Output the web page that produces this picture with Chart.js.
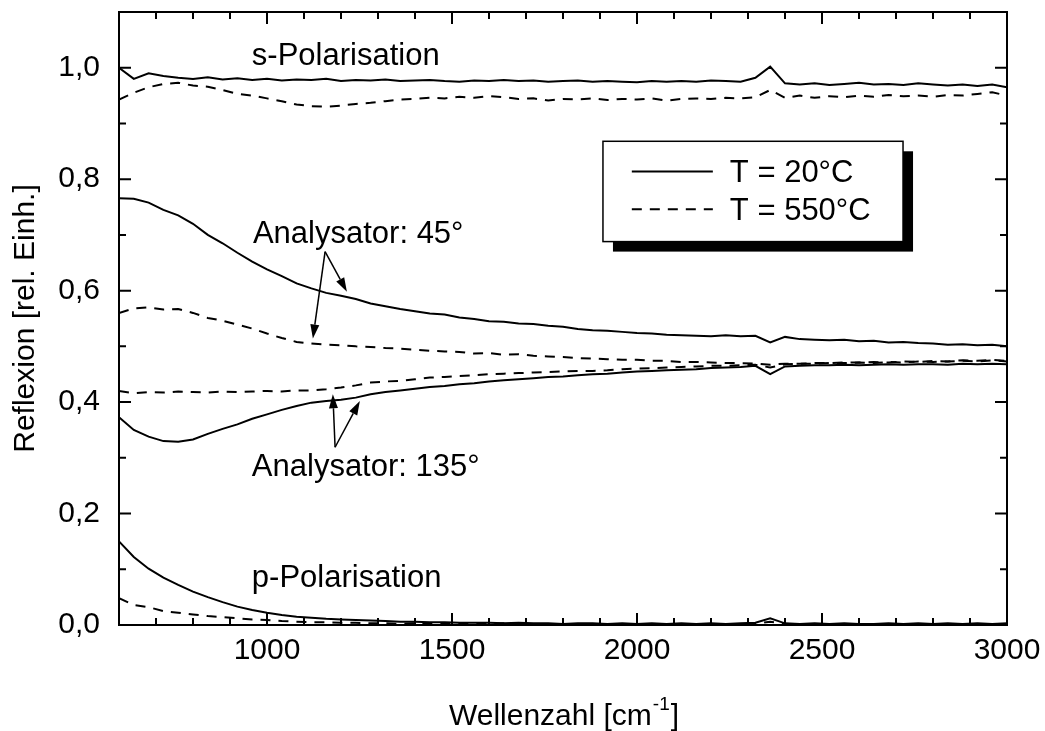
<!DOCTYPE html>
<html>
<head>
<meta charset="utf-8">
<title>Reflexion</title>
<script src="https://cdn.jsdelivr.net/npm/chart.js@4.4.1/dist/chart.umd.min.js"></script>
<style>
  html, body { margin: 0; padding: 0; background: #fff; }
  canvas { display: block; }
</style>
</head>
<body>
<canvas id="chart" width="1045" height="731"></canvas>
<script>
// Wellenzahl in cm^-1
const wavenumber = [
  600, 640, 680, 720, 760, 800, 840, 880, 920, 960,
  1000, 1040, 1080, 1120, 1160, 1200, 1240, 1280, 1320, 1360,
  1400, 1440, 1480, 1520, 1560, 1600, 1640, 1680, 1720, 1760,
  1800, 1840, 1880, 1920, 1960, 2000, 2040, 2080, 2120, 2160,
  2200, 2240, 2280, 2320, 2360, 2400, 2440, 2480, 2520, 2560,
  2600, 2640, 2680, 2720, 2760, 2800, 2840, 2880, 2920, 2960, 3000,
];

// s-Polarisation
const sPol20 = [
  1.000, 0.980, 0.990, 0.985, 0.982, 0.980, 0.983, 0.979, 0.981, 0.978,
  0.980, 0.977, 0.979, 0.978, 0.980, 0.976, 0.978, 0.977, 0.979, 0.976,
  0.977, 0.978, 0.976, 0.975, 0.977, 0.976, 0.978, 0.976, 0.977, 0.975,
  0.976, 0.977, 0.975, 0.976, 0.975, 0.974, 0.976, 0.975, 0.976, 0.975,
  0.977, 0.976, 0.975, 0.982, 1.002, 0.972, 0.970, 0.972, 0.969, 0.971,
  0.973, 0.970, 0.971, 0.969, 0.972, 0.970, 0.968, 0.970, 0.967, 0.970, 0.965,
];
const sPol550 = [
  0.943, 0.955, 0.965, 0.971, 0.973, 0.968, 0.966, 0.960, 0.953, 0.950,
  0.945, 0.940, 0.934, 0.931, 0.930, 0.932, 0.935, 0.937, 0.940, 0.943,
  0.944, 0.946, 0.945, 0.948, 0.946, 0.949, 0.947, 0.944, 0.945, 0.941,
  0.944, 0.943, 0.945, 0.942, 0.944, 0.943, 0.945, 0.941, 0.944, 0.945,
  0.944, 0.946, 0.945, 0.947, 0.960, 0.946, 0.950, 0.946, 0.949, 0.947,
  0.950, 0.948, 0.951, 0.949, 0.950, 0.948, 0.951, 0.950, 0.953, 0.956, 0.950,
];

// Analysator 45°
const ana45_20 = [
  0.766, 0.765, 0.758, 0.745, 0.735, 0.720, 0.700, 0.685, 0.668, 0.652,
  0.638, 0.626, 0.613, 0.604, 0.596, 0.591, 0.585, 0.577, 0.572, 0.567,
  0.563, 0.559, 0.557, 0.552, 0.549, 0.545, 0.544, 0.541, 0.540, 0.537,
  0.535, 0.531, 0.529, 0.528, 0.526, 0.524, 0.523, 0.521, 0.520, 0.519,
  0.518, 0.520, 0.518, 0.519, 0.507, 0.517, 0.513, 0.512, 0.511, 0.512,
  0.509, 0.510, 0.507, 0.508, 0.506, 0.505, 0.503, 0.504, 0.502, 0.503, 0.500,
];
const ana45_550 = [
  0.560, 0.568, 0.570, 0.566, 0.567, 0.560, 0.551, 0.546, 0.539, 0.532,
  0.523, 0.515, 0.508, 0.505, 0.503, 0.502, 0.500, 0.499, 0.497, 0.496,
  0.494, 0.492, 0.491, 0.490, 0.487, 0.488, 0.485, 0.486, 0.483, 0.482,
  0.481, 0.479, 0.478, 0.477, 0.476, 0.476, 0.474, 0.474, 0.472, 0.472,
  0.471, 0.470, 0.470, 0.469, 0.467, 0.469, 0.469, 0.470, 0.470, 0.471,
  0.471, 0.472, 0.471, 0.473, 0.472, 0.474, 0.473, 0.475, 0.474, 0.476, 0.474,
];

// Analysator 135°
const ana135_20 = [
  0.373, 0.350, 0.338, 0.330, 0.329, 0.333, 0.343, 0.352, 0.360, 0.370,
  0.378, 0.386, 0.393, 0.399, 0.402, 0.404, 0.408, 0.414, 0.418, 0.421,
  0.424, 0.427, 0.429, 0.432, 0.434, 0.437, 0.439, 0.441, 0.443, 0.445,
  0.446, 0.448, 0.450, 0.451, 0.453, 0.455, 0.456, 0.457, 0.458, 0.459,
  0.461, 0.462, 0.463, 0.465, 0.450, 0.464, 0.465, 0.466, 0.466, 0.467,
  0.466, 0.467, 0.468, 0.467, 0.468, 0.468, 0.467, 0.469, 0.468, 0.469, 0.468,
];
const ana135_550 = [
  0.420, 0.416, 0.418, 0.417, 0.419, 0.418, 0.417, 0.419, 0.418, 0.419,
  0.420, 0.419, 0.421, 0.421, 0.423, 0.426, 0.430, 0.435, 0.437, 0.438,
  0.441, 0.444, 0.445, 0.447, 0.448, 0.450, 0.451, 0.452, 0.453, 0.454,
  0.455, 0.456, 0.456, 0.457, 0.459, 0.460, 0.461, 0.462, 0.463, 0.464,
  0.465, 0.465, 0.466, 0.467, 0.462, 0.468, 0.469, 0.469, 0.470, 0.470,
  0.471, 0.470, 0.472, 0.471, 0.473, 0.472, 0.473, 0.474, 0.473, 0.475, 0.473,
];

// p-Polarisation
const pPol20 = [
  0.150, 0.122, 0.101, 0.085, 0.072, 0.060, 0.050, 0.041, 0.033, 0.027,
  0.022, 0.018, 0.015, 0.013, 0.011, 0.010, 0.009, 0.008, 0.007, 0.006,
  0.006, 0.005, 0.005, 0.004, 0.004, 0.004, 0.003, 0.004, 0.003, 0.003,
  0.002, 0.003, 0.003, 0.002, 0.003, 0.002, 0.003, 0.002, 0.003, 0.002,
  0.003, 0.002, 0.003, 0.004, 0.012, 0.003, 0.002, 0.003, 0.002, 0.003,
  0.002, 0.002, 0.003, 0.002, 0.003, 0.002, 0.003, 0.002, 0.003, 0.002, 0.003,
];
const pPol550 = [
  0.048, 0.036, 0.032, 0.025, 0.022, 0.019, 0.016, 0.014, 0.012, 0.010,
  0.009, 0.007, 0.006, 0.005, 0.005, 0.004, 0.004, 0.003, 0.003, 0.002,
  0.003, 0.002, 0.002, 0.003, 0.002, 0.002, 0.003, 0.002, 0.001, 0.002,
  0.002, 0.001, 0.002, 0.002, 0.001, 0.002, 0.001, 0.002, 0.002, 0.001,
  0.002, 0.001, 0.002, 0.002, 0.006, 0.002, 0.001, 0.002, 0.001, 0.002,
  0.002, 0.001, 0.002, 0.001, 0.002, 0.002, 0.001, 0.002, 0.001, 0.002, 0.002,
];

const xTickValues = [1000, 1500, 2000, 2500, 3000];
const yTickValues = [0, 0.2, 0.4, 0.6, 0.8, 1.0];
const legendLabels = ["T = 20°C", "T = 550°C"];

const FONT = "'Liberation Sans', Arial, Helvetica, sans-serif";
const DASH = [10, 8];

function toPoints(values) {
  return wavenumber.map((x, i) => ({ x: x, y: values[i] }));
}

function lineSet(label, values, dashed) {
  return {
    label: label,
    data: toPoints(values),
    borderColor: "#000",
    borderWidth: 2,
    borderDash: dashed ? DASH : [],
    pointRadius: 0,
    tension: 0,
    fill: false,
  };
}

function commaLabel(v) {
  return v.toFixed(1).replace(".", ",");
}

// keep the plot box fixed, no extra room for overhanging labels
function fixBox(size) {
  return (s) => {
    if (s.isHorizontal()) s.height = size;
    else s.width = size;
    s.paddingTop = 0;
    s.paddingBottom = 0;
    s.paddingLeft = 0;
    s.paddingRight = 0;
  };
}

function drawArrow(ctx, from, to) {
  const ang = Math.atan2(to[1] - from[1], to[0] - from[0]);
  const head = 14;
  const half = 4.5;
  const bx = to[0] - head * Math.cos(ang);
  const by = to[1] - head * Math.sin(ang);
  ctx.beginPath();
  ctx.moveTo(from[0], from[1]);
  ctx.lineTo(bx, by);
  ctx.stroke();
  ctx.beginPath();
  ctx.moveTo(to[0], to[1]);
  ctx.lineTo(bx + half * Math.sin(ang), by - half * Math.cos(ang));
  ctx.lineTo(bx - half * Math.sin(ang), by + half * Math.cos(ang));
  ctx.closePath();
  ctx.fill();
}

// frame, inner ticks on all four sides, axis titles
const framePlugin = {
  id: "frame",
  afterDraw(chart) {
    const { ctx, chartArea: a } = chart;
    const xs = chart.scales.x;
    const ys = chart.scales.y;
    ctx.save();
    ctx.strokeStyle = "#000";
    ctx.lineWidth = 2;
    ctx.setLineDash([]);
    ctx.strokeRect(a.left, a.top, a.right - a.left, a.bottom - a.top);

    ctx.beginPath();
    for (let v = 600; v <= 3000; v += 100) {
      const len = v % 500 === 0 ? 12 : 7;
      const x = xs.getPixelForValue(v);
      ctx.moveTo(x, a.bottom);
      ctx.lineTo(x, a.bottom - len);
      ctx.moveTo(x, a.top);
      ctx.lineTo(x, a.top + len);
    }
    for (let k = 0; k <= 11; k++) {
      const len = k % 2 === 0 ? 12 : 7;
      const y = ys.getPixelForValue(k / 10);
      ctx.moveTo(a.left, y);
      ctx.lineTo(a.left + len, y);
      ctx.moveTo(a.right, y);
      ctx.lineTo(a.right - len, y);
    }
    ctx.stroke();

    // axis titles
    ctx.fillStyle = "#000";
    ctx.font = "30px " + FONT;
    ctx.textBaseline = "alphabetic";
    const main = "Wellenzahl [cm";
    const sup = "-1";
    const tail = "]";
    const wMain = ctx.measureText(main).width;
    const wTail = ctx.measureText(tail).width;
    ctx.font = "19px " + FONT;
    const wSup = ctx.measureText(sup).width;
    const x0 = (a.left + a.right) / 2 - (wMain + wSup + wTail) / 2;
    const base = 725;
    ctx.font = "30px " + FONT;
    ctx.textAlign = "left";
    ctx.fillText(main, x0, base);
    ctx.font = "19px " + FONT;
    ctx.fillText(sup, x0 + wMain + 1, base - 15);
    ctx.font = "30px " + FONT;
    ctx.fillText(tail, x0 + wMain + wSup + 2, base);

    ctx.translate(34, (a.top + a.bottom) / 2);
    ctx.rotate(-Math.PI / 2);
    ctx.textAlign = "center";
    ctx.fillText("Reflexion [rel. Einh.]", 0, 0);
    ctx.restore();
  },
};

// curve labels, arrows and the boxed legend
const notesPlugin = {
  id: "notes",
  afterDraw(chart) {
    const { ctx } = chart;
    const xs = chart.scales.x;
    const ys = chart.scales.y;
    const p = (wn, r) => [xs.getPixelForValue(wn), ys.getPixelForValue(r)];

    ctx.save();
    ctx.fillStyle = "#000";
    ctx.strokeStyle = "#000";
    ctx.font = "31px " + FONT;
    ctx.textAlign = "left";
    ctx.textBaseline = "alphabetic";
    const notes = [
      ["s-Polarisation", 959, 1.004],
      ["Analysator: 45°", 962, 0.685],
      ["Analysator: 135°", 959, 0.267],
      ["p-Polarisation", 959, 0.068],
    ];
    notes.forEach(([text, wn, r]) => {
      const [x, y] = p(wn, r);
      ctx.fillText(text, x, y);
    });

    ctx.lineWidth = 1.5;
    const arrows = [
      [[1157, 0.670], [1124, 0.514]],
      [[1157, 0.670], [1216, 0.598]],
      [[1184, 0.319], [1178, 0.414]],
      [[1184, 0.319], [1251, 0.402]],
    ];
    arrows.forEach(([from, to]) => {
      drawArrow(ctx, p(from[0], from[1]), p(to[0], to[1]));
    });

    // legend box with drop shadow
    const [bx0, by0] = p(1908, 0.868);
    const [bx1, by1] = p(2719, 0.688);
    ctx.fillRect(bx0 + 10, by0 + 10, bx1 - bx0, by1 - by0);
    ctx.fillStyle = "#fff";
    ctx.fillRect(bx0, by0, bx1 - bx0, by1 - by0);
    ctx.lineWidth = 1.5;
    ctx.strokeRect(bx0, by0, bx1 - bx0, by1 - by0);

    ctx.fillStyle = "#000";
    ctx.lineWidth = 2;
    const rows = [0.814, 0.746];
    rows.forEach((r, i) => {
      const [sx0, sy] = p(1986, r);
      const [sx1] = p(2205, r);
      ctx.setLineDash(i === 0 ? [] : DASH);
      ctx.beginPath();
      ctx.moveTo(sx0, sy);
      ctx.lineTo(sx1, sy);
      ctx.stroke();
      const [tx] = p(2251, r);
      ctx.fillText(legendLabels[i], tx, sy + 11);
    });
    ctx.restore();
  },
};

const ctx = document.getElementById("chart").getContext("2d");

new Chart(ctx, {
  type: "line",
  data: {
    datasets: [
      lineSet("s-Polarisation, " + legendLabels[0], sPol20, false),
      lineSet("s-Polarisation, " + legendLabels[1], sPol550, true),
      lineSet("Analysator: 45°, " + legendLabels[0], ana45_20, false),
      lineSet("Analysator: 45°, " + legendLabels[1], ana45_550, true),
      lineSet("Analysator: 135°, " + legendLabels[0], ana135_20, false),
      lineSet("Analysator: 135°, " + legendLabels[1], ana135_550, true),
      lineSet("p-Polarisation, " + legendLabels[0], pPol20, false),
      lineSet("p-Polarisation, " + legendLabels[1], pPol550, true),
    ],
  },
  options: {
    responsive: false,
    animation: false,
    devicePixelRatio: 1,
    layout: { padding: { left: 0, top: 12, right: 38, bottom: 0 } },
    plugins: {
      legend: { display: false },
      tooltip: { enabled: false },
    },
    scales: {
      x: {
        type: "linear",
        min: 600,
        max: 3000,
        grid: { display: false, drawTicks: false },
        border: { display: false },
        afterBuildTicks: (s) => { s.ticks = xTickValues.map((v) => ({ value: v })); },
        ticks: {
          maxRotation: 0,
          autoSkip: false,
          padding: 8,
          color: "#000",
          font: { family: FONT, size: 30 },
          callback: (v) => String(v),
        },
        afterFit: fixBox(106),
      },
      y: {
        type: "linear",
        min: 0,
        max: 1.1,
        grid: { display: false, drawTicks: false },
        border: { display: false },
        afterBuildTicks: (s) => { s.ticks = yTickValues.map((v) => ({ value: v })); },
        ticks: {
          autoSkip: false,
          padding: 19,
          color: "#000",
          font: { family: FONT, size: 30 },
          callback: (v) => commaLabel(v),
        },
        afterFit: fixBox(119),
      },
    },
  },
  plugins: [framePlugin, notesPlugin],
});
</script>
</body>
</html>
